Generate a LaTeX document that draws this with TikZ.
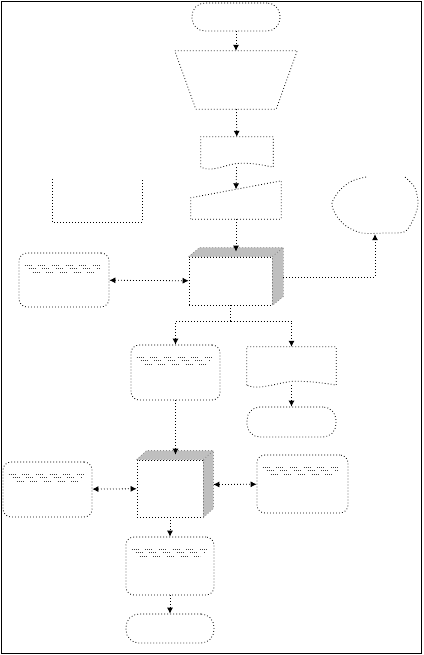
\documentclass[tikz,border=0pt]{standalone}
\usetikzlibrary{arrows.meta,calc}

\tikzset{
  dots/.style={line width=0.8pt, dash pattern=on 0.8pt off 2.2pt},
  outline/.style={draw, dots},
  terminal/.style={outline, rounded corners=13pt, inner sep=0pt},
  storebox/.style={outline, rounded corners=8pt, inner sep=0pt},
  frontbox/.style={outline, fill=white, inner sep=0pt},
  holder/.style={inner sep=0pt},
  face/.style={fill=black!25, draw=black!45, dots},
  textdots/.style={line width=0.7pt, black!75, dash pattern=on 0.7pt off 1.3pt on 0.7pt off 1.3pt on 0.7pt off 1.3pt on 0.7pt off 7pt},
  flow/.style={dots, -{Latex[length=6pt,width=6pt]}},
  twoway/.style={dots, {Latex[length=6pt,width=6pt]}-{Latex[length=6pt,width=6pt]}},
}

% three rows of tiny dotted print near the top of a box
\newcommand{\scrawl}[1]{%
  \foreach \dy/\pad in {13/6,16/10,20/14}
    \draw[textdots] ($(#1.north west)+(\pad,\dy)$) -- ($(#1.north east)+(-\pad,\dy)$);
}

% grey top and side of a box drawn as a block
\newcommand{\blockfaces}[3]{%
  \draw[face] (#1.north west) -- ++(#2,-#3) -- ($(#1.north east)+(#2,-#3)$) -- (#1.north east) -- cycle;
  \draw[face] (#1.north east) -- ++(#2,-#3) -- ($(#1.south east)+(#2,-#3)$) -- (#1.south east) -- cycle;
}

% wavy bottom of a document shape
\newcommand{\docoutline}[1]{%
  \draw[outline] (#1.south west) -- (#1.north west) -- (#1.north east) -- (#1.south east)
    .. controls +(-10,-2) and +(14,0) .. ($(#1.south)+(4,-4)$)
    .. controls +(-14,0) and +(12,6) .. (#1.south west);
}

\begin{document}
\begin{tikzpicture}[x=1pt,y=-1pt]

  % Fix the page size
  \useasboundingbox (0,0) rectangle (423,655);

  % Draw the frame
  \draw[line width=1pt] (1.5,1.5) rectangle (421.5,653.5);

  % Start terminal and manual operation
  \node[terminal, minimum width=88pt, minimum height=28pt] (start) at (236,17) {};
  \node[holder, minimum width=122pt, minimum height=58pt] (manual) at (236,80) {};
  \draw[outline] (manual.north west) -- (manual.north east)
    -- ($(manual.south east)+(-21,0)$) -- ($(manual.south west)+(21,0)$) -- cycle;

  % Document and manual input
  \node[holder, minimum width=72pt, minimum height=30pt] (doc1) at (237,152) {};
  \docoutline{doc1}
  \node[holder, minimum width=90pt, minimum height=38pt] (input) at (236,200) {};
  \draw[outline] (input.south west) -- ($(input.north west)+(0,17)$)
    -- (input.north east) -- (input.south east) -- cycle;
  \coordinate (inslant) at ($(input.north)+(0,8.5)$);

  % Open container on the left
  \node[holder, minimum width=89pt, minimum height=43pt] (tray) at (97.5,200.5) {};
  \draw[outline] (tray.north west) -- (tray.south west) -- (tray.south east) -- (tray.north east);

  % Cloud on the right
  \node[holder, minimum width=86pt, minimum height=58pt] (cloud) at (375,205) {};
  \draw[outline] plot[smooth] coordinates {(366,177) (352,181) (340,190) (332,203) (336,215)
    (346,226) (362,233) (385,233) (404,232) (412,222) (418,205) (415,188) (405,177)};

  % First block with its neighbours
  \node[frontbox, minimum width=83pt, minimum height=48pt] (proc1) at (230.5,281) {};
  \blockfaces{proc1}{11}{9}
  \coordinate (proc1top) at ($(proc1.north)+(5.5,-5)$);
  \coordinate (proc1side) at ($(proc1.east)+(11,-4)$);
  \node[storebox, minimum width=90pt, minimum height=54pt] (log1) at (64,280) {};
  \scrawl{log1}

  % Branches below the first block
  \coordinate (split) at (230.5,321);
  \node[storebox, minimum width=89pt, minimum height=55pt] (store1) at (175.5,372.5) {};
  \scrawl{store1}
  \node[holder, minimum width=89pt, minimum height=38pt] (doc2) at (291.5,366) {};
  \docoutline{doc2}
  \node[terminal, minimum width=89pt, minimum height=30pt] (stop1) at (291.5,422) {};

  % Second block with its neighbours
  \node[frontbox, minimum width=66pt, minimum height=57pt] (proc2) at (170,488.5) {};
  \blockfaces{proc2}{10}{9}
  \coordinate (proc2top) at ($(proc2.north)+(5.5,-5)$);
  \coordinate (proc2side) at ($(proc2.east)+(10,-4)$);
  \node[storebox, minimum width=89pt, minimum height=55pt] (log2) at (47.5,489.5) {};
  \scrawl{log2}
  \node[storebox, minimum width=91pt, minimum height=58pt] (log3) at (302.5,484) {};
  \scrawl{log3}

  % Last store and end terminal
  \node[storebox, minimum width=88pt, minimum height=58pt] (store2) at (170,566) {};
  \scrawl{store2}
  \node[terminal, minimum width=88pt, minimum height=29pt] (stop2) at (170,628.5) {};

  % Connectors
  \draw[flow] (start) -- (manual);
  \draw[flow] (manual) -- (doc1);
  \draw[flow] (doc1) -- (inslant);
  \draw[flow] (input) -- (proc1top);
  \draw[twoway] (log1) -- (proc1);
  \draw[flow] (proc1side) -| (cloud.south);
  \draw[dots] (proc1) -- (split);
  \draw[flow] (split) -| (store1);
  \draw[flow] (split) -| (doc2);
  \draw[flow] (doc2) -- (stop1);
  \draw[flow] (store1) -- (proc2top);
  \draw[twoway] (log2) -- (proc2);
  \draw[twoway] (proc2side) -- (log3);
  \draw[flow] (proc2) -- (store2);
  \draw[flow] (store2) -- (stop2);

\end{tikzpicture}
\end{document}
